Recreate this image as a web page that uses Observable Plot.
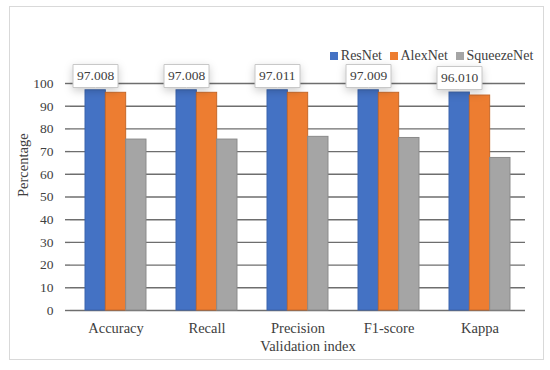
<!DOCTYPE html>
<html>
<head>
<meta charset="utf-8">
<script src="https://cdn.jsdelivr.net/npm/d3@7"></script>
<script src="https://cdn.jsdelivr.net/npm/@observablehq/plot@0.6"></script>
<style>
  html, body { margin: 0; padding: 0; background: #fff; }
  #wrap { position: relative; width: 550px; height: 370px; overflow: hidden; font-family: "Liberation Serif", serif; }
  #border { position: absolute; left: 9px; top: 6px; width: 535px; height: 354px; border: 1px solid #d9d9d9; box-sizing: border-box; }
  #chart { position: absolute; left: 0; top: 0; }
  #chart svg, #chart svg text, #chart svg tspan, #chart svg g { font-family: "Liberation Serif", serif !important; }
  #legend { position: absolute; left: 330px; top: 39px; }
  .lg-swatch { margin-right: 0.55em !important; }
  .lg-swatch > svg { margin-right: 0.2em !important; }
</style>
</head>
<body>
<div id="wrap">
  <div id="border"></div>
  <div id="chart"></div>
  <div id="legend"></div>
</div>
<script>
const categories = ["Accuracy", "Recall", "Precision", "F1-score", "Kappa"];
const models = ["ResNet", "AlexNet", "SqueezeNet"];
const resnet = [97.008, 97.008, 97.011, 97.009, 96.010];
const alexnet = [95.9, 95.9, 95.9, 95.9, 94.7];
const squeezenet = [75.3, 75.3, 76.5, 76.0, 67.2];
const yTicks = [0, 10, 20, 30, 40, 50, 60, 70, 80, 90, 100];

const fills = ["#4472C4", "#ED7D31", "#A5A5A5"];
const strokes = ["#3a63ad", "#c8692a", "#8a8a8a"];
const series = [resnet, alexnet, squeezenet];
const groupW = 0.67;
const barW = groupW / models.length;

const rows = models.map((m, j) => categories.map((c, i) => ({
  cat: c, i, model: m, j, value: series[j][i]
})));

const font = "Liberation Serif";
const textColor = "#404040";

const barMarks = rows.map((data, j) => Plot.rectY(data, {
  x1: d => d.i - groupW / 2 + d.j * barW,
  x2: d => d.i - groupW / 2 + (d.j + 1) * barW,
  y1: 0,
  y2: "value",
  fill: fills[j],
  stroke: strokes[j],
  strokeWidth: 1
}));

const labelMark = (typeof Plot.tip === "function")
  ? Plot.tip(rows[0], {
      x: d => d.i - groupW / 2 + barW / 2,
      y: "value",
      title: d => d.value.toFixed(3),
      anchor: "bottom",
      pointerSize: 0,
      textPadding: 4,
      fontSize: 13.5,
      fontFamily: font,
      fill: "white",
      stroke: "#c8c8c8",
      strokeWidth: 1,
      dy: -3
    })
  : Plot.text(rows[0], {
      x: d => d.i - groupW / 2 + barW / 2,
      y: "value",
      text: d => d.value.toFixed(3),
      dy: -14,
      fontSize: 13.5,
      fontFamily: font,
      fill: textColor
    });

const chart = Plot.plot({
  width: 550,
  height: 370,
  marginLeft: 70,
  marginRight: 25,
  marginTop: 83,
  marginBottom: 60,
  style: { fontFamily: "'Liberation Serif', serif", fontSize: "13px", color: textColor, background: "transparent", overflow: "visible" },
  x: { type: "linear", domain: [-0.5, categories.length - 0.5] },
  y: { domain: [0, 100] },
  marks: [
    Plot.ruleY(yTicks, { stroke: "#6e6e6e", strokeWidth: 1.4 }),
    Plot.axisY({ ticks: yTicks, tickSize: 5, tickPadding: 12, stroke: "#6e6e6e", strokeWidth: 1.4, fill: textColor, fontSize: 13.5, fontFamily: font, label: null }),
    Plot.axisX({ ticks: d3.range(categories.length), tickFormat: i => categories[i], tickSize: 0, tickPadding: 12, fontSize: 14.5, fontFamily: font, fill: textColor, label: null }),
    ...barMarks,
    labelMark,
    Plot.text(["Validation index"], { frameAnchor: "bottom", dy: 40, dx: 10, fontSize: 14.5, fontFamily: font, fill: textColor }),
    Plot.text(["Percentage"], { frameAnchor: "left", dx: -47, rotate: -90, fontSize: 14.5, fontFamily: font, fill: textColor })
  ]
});
document.getElementById("chart").appendChild(chart);

const legend = Plot.legend({
  color: { type: "ordinal", domain: models, range: fills },
  legend: "swatches",
  swatchSize: 8,
  className: "lg",
  style: { fontFamily: "'Liberation Serif', serif", fontSize: "14px", color: textColor }
});
document.getElementById("legend").appendChild(legend);
</script>
</body>
</html>
